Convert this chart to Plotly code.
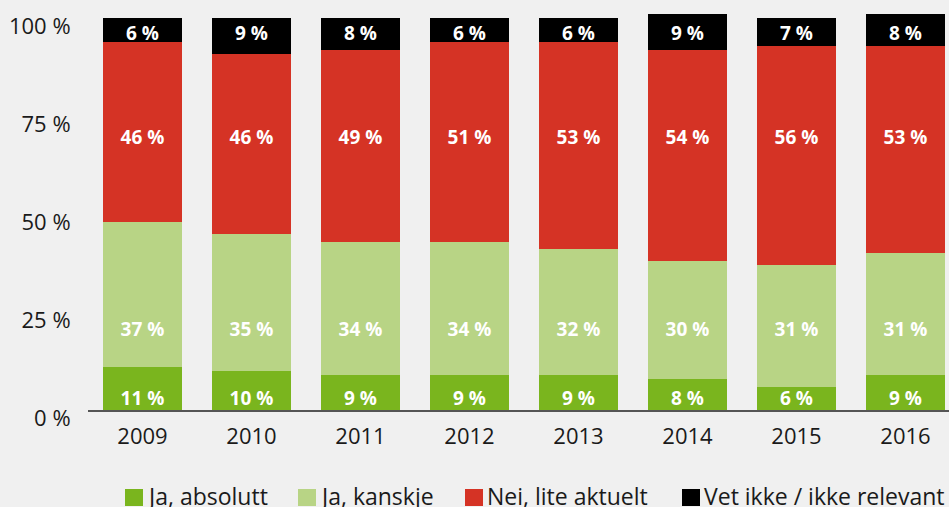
import plotly.graph_objects as go

years = ["2009", "2010", "2011", "2012", "2013", "2014", "2015", "2016"]
ja_absolutt = [11, 10, 9, 9, 9, 8, 6, 9]
ja_kanskje = [37, 35, 34, 34, 32, 30, 31, 31]
nei_lite = [46, 46, 49, 51, 53, 54, 56, 53]
vet_ikke = [6, 9, 8, 6, 6, 9, 7, 8]

series_names = ["Ja, absolutt", "Ja, kanskje", "Nei, lite aktuelt", "Vet ikke / ikke relevant"]
series_values = [ja_absolutt, ja_kanskje, nei_lite, vet_ikke]
colors = ["#7AB51E", "#B8D485", "#D53325", "#000000"]
y_ticks = [0, 25, 50, 75, 100]
y_tick_labels = ["0 %", "25 %", "50 %", "75 %", "100 %"]

# label rows: fixed vertical position (axis units) of each series' value labels
label_rows = [2.5, 20.1, 69.0, 95.8]

FONT = "Open Sans"
fig = go.Figure()
for name, vals, col in zip(series_names, series_values, colors):
    fig.add_trace(go.Bar(
        x=years, y=vals, name=name, marker=dict(color=col, line=dict(width=0)),
        showlegend=False, hoverinfo="skip",
    ))
for name, vals, row in zip(series_names, series_values, label_rows):
    fig.add_trace(go.Scatter(
        x=years, y=[row] * len(years), mode="text", text=[f"{v} %" for v in vals],
        textposition="middle center",
        textfont=dict(family=FONT, size=19, color="white", weight="bold"),
        showlegend=False, hoverinfo="skip",
    ))

# manual legend (layout decoration)
H = 408.0
def py(pix):
    return (410 - pix) / H
leg_x = [125, 298, 465, 682]
W = 861.0
shapes = []
annotations = []
for xs, name, col in zip(leg_x, series_names, colors):
    shapes.append(dict(type="rect", xref="paper", yref="paper",
                       x0=(xs - 88) / W, x1=(xs + 18 - 88) / W,
                       y0=py(506), y1=py(489), fillcolor=col, line=dict(width=0)))
    annotations.append(dict(xref="paper", yref="paper", x=(xs + 19.5 - 88) / W, y=py(496),
                            xanchor="left", yanchor="middle", showarrow=False, text=name,
                            font=dict(family=FONT, size=23, color="#1a1a1a")))

fig.update_layout(
    barmode="stack", bargap=0.275,
    width=949, height=507,
    margin=dict(l=88, r=0, t=2, b=97),
    paper_bgcolor="#F0F0F0", plot_bgcolor="#F0F0F0",
    shapes=shapes, annotations=annotations,
    showlegend=False,
)
fig.update_xaxes(range=[-0.5, 7.399], showgrid=False, showline=True, linecolor="#555555",
                 linewidth=1.5, ticks="outside", ticklen=6, tickcolor="rgba(0,0,0,0)",
                 tickfont=dict(family=FONT, size=22, color="#1a1a1a"), zeroline=False,
                 fixedrange=True)
fig.update_yaxes(range=[0, 104.16], tickvals=y_ticks, ticktext=y_tick_labels, showgrid=False,
                 zeroline=False, showline=False, ticks="outside", ticklen=12,
                 tickcolor="rgba(0,0,0,0)", ticklabelshift=8,
                 tickfont=dict(family=FONT, size=22, color="#1a1a1a"), fixedrange=True)
fig.write_html("out.html", config={"displayModeBar": False},
               post_script="document.body.style.margin='0';document.body.style.overflow='hidden';")
